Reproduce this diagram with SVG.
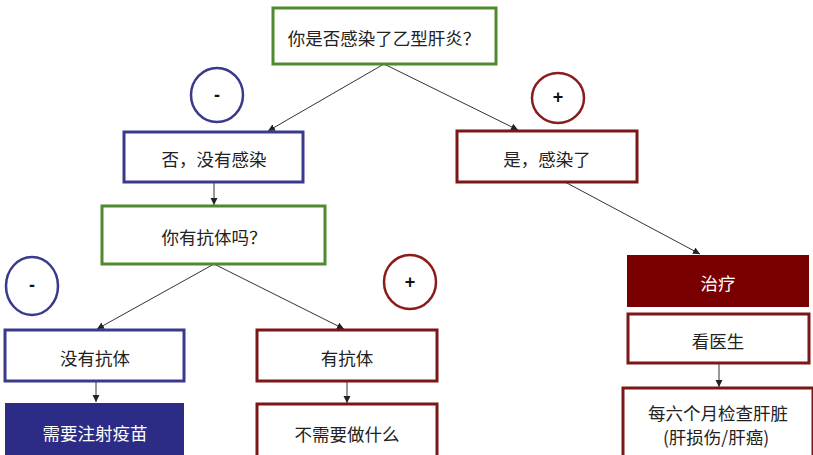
<svg xmlns="http://www.w3.org/2000/svg" width="813" height="455" viewBox="0 0 813 455">
<defs>
<marker id="arr" markerWidth="8" markerHeight="8" refX="7" refY="4" orient="auto" markerUnits="userSpaceOnUse">
<path d="M0,0.5 L7,4 L0,7.5 Z" fill="#222"/>
</marker>
<style>
.t{font-family:"Noto Sans CJK SC","Liberation Sans",sans-serif;font-size:17.5px;fill:#222;text-anchor:middle;dominant-baseline:central}
.w{fill:#fff}
.g{fill:#fff;stroke:#4f8a2e;stroke-width:3}
.b{fill:#fff;stroke:#3a3a8c;stroke-width:3}
.r{fill:#fff;stroke:#7d1717;stroke-width:3}
.cb{fill:#fff;stroke:#3a3a8c;stroke-width:2.5}
.cr{fill:#fff;stroke:#8a1c1c;stroke-width:2.5}
.s{font-family:"Liberation Sans",sans-serif;font-size:18px;font-weight:bold;fill:#111;text-anchor:middle;dominant-baseline:central}
.c{stroke:#333;stroke-width:1;fill:none;marker-end:url(#arr)}
</style>
</defs>
<rect width="813" height="455" fill="#fff"/>
<g id="connectors">
<line class="c" x1="384" y1="64" x2="268" y2="131"/>
<line class="c" x1="384" y1="64" x2="518" y2="130"/>
<line class="c" x1="214" y1="182" x2="214" y2="205"/>
<line class="c" x1="565" y1="182" x2="700" y2="254"/>
<line class="c" x1="214" y1="264" x2="97" y2="329"/>
<line class="c" x1="214" y1="264" x2="344" y2="329"/>
<line class="c" x1="96" y1="381" x2="96" y2="402"/>
<line class="c" x1="347" y1="381" x2="347" y2="403"/>
<line class="c" x1="719" y1="363" x2="719" y2="387"/>
</g>
<g id="q1"><rect class="g" x="273" y="8" width="223" height="56"/><text class="t" x="384" y="37">你是否感染了乙型肝炎？</text></g>
<g id="minus1"><ellipse class="cb" cx="217" cy="95" rx="26" ry="27"/><text class="s" x="217" y="95">-</text></g>
<g id="plus1"><ellipse class="cr" cx="558" cy="98" rx="26" ry="25"/><text class="s" x="558" y="97">+</text></g>
<g id="no"><rect class="b" x="124" y="132" width="179" height="50"/><text class="t" x="214" y="158">否，没有感染</text></g>
<g id="yes"><rect class="r" x="457" y="131" width="180" height="51"/><text class="t" x="547" y="158">是，感染了</text></g>
<g id="q2"><rect class="g" x="102" y="206" width="223" height="58"/><text class="t" x="214" y="236">你有抗体吗？</text></g>
<g id="minus2"><ellipse class="cb" cx="32" cy="286" rx="26" ry="29"/><text class="s" x="32" y="285">-</text></g>
<g id="plus2"><ellipse class="cr" cx="410" cy="282" rx="26" ry="27"/><text class="s" x="410" y="282">+</text></g>
<g id="noab"><rect class="b" x="5" y="330" width="179" height="51" stroke="#4a4aa8"/><text class="t" x="95" y="357">没有抗体</text></g>
<g id="ab"><rect class="r" x="257" y="330" width="180" height="51"/><text class="t" x="347" y="357">有抗体</text></g>
<g id="vaccine"><rect x="5" y="403" width="179" height="56" fill="#2c2c86"/><text class="t w" x="95" y="432">需要注射疫苗</text></g>
<g id="nothing"><rect class="r" x="257" y="404" width="180" height="56"/><text class="t" x="347" y="433">不需要做什么</text></g>
<g id="treat"><rect x="627" y="255" width="182" height="52" fill="#780000"/><text class="t w" x="718" y="282">治疗</text></g>
<g id="doctor"><rect class="r" x="628" y="314" width="181" height="49"/><text class="t" x="718" y="340">看医生</text></g>
<g id="check"><rect class="r" x="623" y="388" width="190" height="70"/><text class="t" x="718" y="412">每六个月检查肝脏</text><text class="t" x="716" y="436">(肝损伤/肝癌)</text></g>
</svg>
